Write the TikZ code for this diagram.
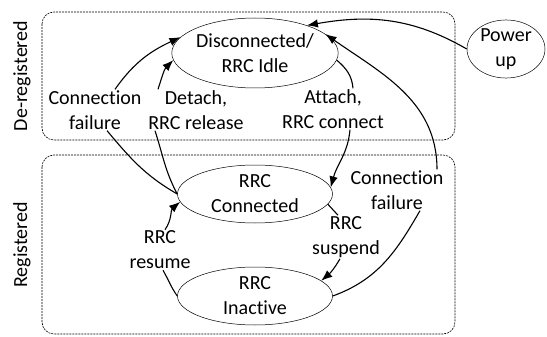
\documentclass[tikz,border=0pt]{standalone}
\usepackage{fontspec}
\setmainfont{Carlito}[Ligatures=NoCommon]
\usepackage{tikz}
\usetikzlibrary{shapes,arrows.meta}
\tikzset{
  state/.style={draw,ellipse,line width=0.5pt,inner sep=0pt,
    minimum width=155pt,minimum height=58pt,align=center},
  lab/.style={align=center,inner sep=1pt},
  area/.style={draw,line width=0.6pt,rounded corners=12pt,
    dash pattern=on 2pt off 1pt},
  trans/.style={line width=1.1pt,-{Latex[length=11pt,width=8.5pt]}},
  seg/.style={line width=1.1pt},
}

\begin{document}
\begin{tikzpicture}[x=1pt,y=-1pt,font=\fontsize{20}{25}\selectfont]
  \useasboundingbox (0,0) rectangle (547,337);
  % areas
  \draw[area] (42,12) rectangle (455,140);
  \draw[area] (42,155) rectangle (455,334);
  \node[rotate=90] (dereg) at (22,76) {De-registered};
  \node[rotate=90] (reg) at (22,245) {Registered};
  % states
  \node[state,minimum height=70pt] (disc) at (255,53) {Disconnected/\\RRC Idle};
  \node[state,minimum width=78pt] (pow) at (506,49) {Power\\up};
  \node[state] (conn) at (255,194) {RRC\\Connected};
  \node[state] (inact) at (255,296) {RRC\\Inactive};
  % edge labels
  \node[lab] (cfl) at (95,110) {Connection\\failure};
  \node[lab] (det) at (196,110) {Detach,\\RRC release};
  \node[lab] (att) at (333,109) {Attach,\\RRC connect};
  \node[lab] (cfr) at (397,190) {Connection\\failure};
  \node[lab] (sus) at (346,237) {RRC\\suspend};
  \node[lab] (res) at (160,250) {RRC\\resume};
  % transitions
  \draw[seg] (conn.west) to[out=150,in=-50] ([xshift=12pt]cfl.south);
  \draw[trans] ([xshift=20pt]cfl.north) to[out=55,in=205] (disc.168);
  \draw[seg] (conn.west) to[out=118,in=-72] ([xshift=-41pt]det.south);
  \draw[trans] ([xshift=-38pt]det.north) to[out=72,in=225] (disc.185);
  \draw[seg] (disc.-5) to[out=-40,in=95] ([xshift=20pt]att.north);
  \draw[trans] ([xshift=17pt]att.south) to[out=-95,in=75] (conn.5);
  \draw[seg] (inact.east) to[out=20,in=-120] ([xshift=23pt]cfr.south);
  \draw[trans] ([xshift=40pt]cfr.north) to[out=90,in=-35] (disc.15);
  \draw[trans] (pow.west) to[out=150,in=10] (disc.28);
  \draw[seg] (conn.-8) -- ([xshift=-8pt]sus.north);
  \draw[trans] ([xshift=-6pt]sus.south) to[out=-120,in=40] (inact.13);
  \draw[seg] (inact.west) to[out=125,in=-60] ([xshift=3pt]res.south);
  \draw[trans] ([xshift=5pt]res.north) to[out=55,in=220] (conn.186);
\end{tikzpicture}
\end{document}
